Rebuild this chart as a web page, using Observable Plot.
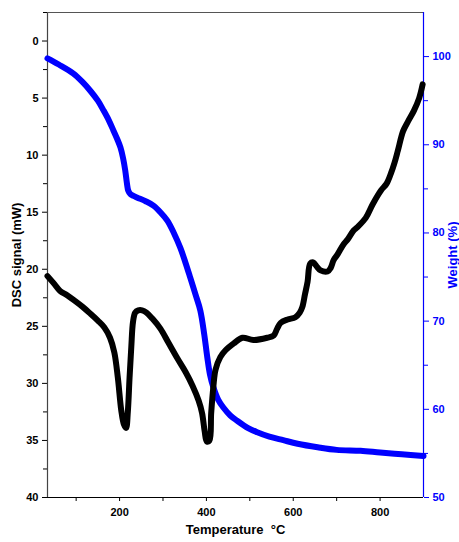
<!DOCTYPE html>
<html><head><meta charset="utf-8">
<script src="https://cdn.jsdelivr.net/npm/d3@7"></script>
<script src="https://cdn.jsdelivr.net/npm/@observablehq/plot@0.6"></script>
<style>
body{margin:0;background:#fff;}
#chart svg{font-family:"Liberation Sans",Arial,sans-serif;font-weight:bold;}
#chart g[aria-label$="axis label"] text{font-size:13px;}
</style>
</head><body><div id="chart"></div>
<script>
const dscTemp = [34,50,63,80,98,115,133,150,165,178,188,196,204,210,215,219,223,227,231,236,243,252,262,275,294,312,333,352,368,382,390,396,401,407,411,416,421,432,444,463,483,508,540,555,563,571,587,605,615,621,627,633,639,646,655,663,679,686,693,702,716,725,739,748,767,783,802,815,825,833,841,853,865,878,890,898];
const dscSignal = [20.6,21.3,21.9,22.3,22.8,23.3,23.9,24.5,25.1,26.0,27.3,29.5,32.4,33.6,33.9,32.5,29.5,26.8,24.6,23.8,23.6,23.6,23.8,24.3,25.2,26.4,27.8,29.0,30.2,31.5,32.6,34.2,35.1,35.0,32.6,30.3,28.8,27.7,27.1,26.5,26.0,26.2,26.0,25.8,25.2,24.7,24.4,24.2,23.8,23.3,22.2,21.1,19.5,19.4,19.8,20.1,20.2,19.9,19.2,18.7,17.8,17.4,16.6,16.3,15.5,14.3,13.1,12.5,11.6,10.7,9.6,7.9,7.0,6.1,5.0,3.8];
const tgaTemp = [34,60,93,115,133,150,163,175,186,195,202,208,213,217,220,225,232,241,260,278,295,310,325,340,352,363,375,386,395,402,408,416,427,439,455,471,495,517,545,577,610,656,700,755,800,850,900];
const tgaWeight = [99.8,99.1,98.1,97.1,96.1,95.0,93.9,92.8,91.6,90.6,89.7,88.5,87.1,85.6,84.8,84.4,84.2,84.0,83.6,83.1,82.3,81.4,80.0,78.3,76.6,74.9,73.0,71.2,68.5,65.9,64.0,62.5,61.1,60.2,59.3,58.7,57.9,57.4,56.9,56.5,56.1,55.7,55.4,55.3,55.1,54.9,54.7];
const tempTicks = [200,400,600,800];
const tempMinor = [100,300,500,700];
const dscTicks = [0,5,10,15,20,25,30,35,40];
const dscMinor = [-2.5,2.5,7.5,12.5,17.5,22.5,27.5,32.5,37.5];
const weightTicks = [50,60,70,80,90,100];
const weightMinor = [55,65,75,85,95];

const xDomain = [34, 900];
const dscDomain = [40, -2.5];
const wDomain = [50, 105];
// map weight onto the DSC axis so both share one y scale
const w2d = d3.scaleLinear().domain(wDomain).range(dscDomain);

const dsc = dscTemp.map((t,i)=>({t, v: dscSignal[i]}));
const tga = tgaTemp.map((t,i)=>({t, v: w2d(tgaWeight[i])}));

const plot = Plot.plot({
  width: 459, height: 542,
  marginLeft: 47, marginRight: 36, marginTop: 12, marginBottom: 45,
  x: {domain: xDomain},
  y: {domain: dscDomain},
  marks: [
    Plot.ruleX([xDomain[0]], {stroke: "#444", strokeWidth: 1.2}),
    Plot.ruleY([dscDomain[1]], {stroke: "#555", strokeWidth: 1.2}),
    Plot.ruleY([dscDomain[0]], {stroke: "#000", strokeWidth: 1.2}),
    Plot.ruleX([xDomain[1]], {stroke: "blue", strokeWidth: 1.2}),
    Plot.axisX(tempTicks, {tickSize: 4, fontSize: 11, tickPadding: 7, label: "Temperature  °C", labelAnchor: "center", labelArrow: "none", labelOffset: 36}),
    Plot.axisX(tempMinor, {tickSize: 4, text: null, label: null}),
    Plot.axisY(dscTicks, {anchor: "left", tickSize: 5, fontSize: 11, tickPadding: 4, label: "DSC signal (mW)", labelAnchor: "center", labelArrow: "none", labelOffset: 36}),
    Plot.axisY(dscMinor, {anchor: "left", tickSize: 4, text: null, label: null}),
    Plot.axisY(weightTicks.map(w2d), {anchor: "right", color: "blue", tickSize: 5, fontSize: 11, tickPadding: 4,
      tickFormat: d => String(Math.round(w2d.invert(d))), label: "Weight (%)", labelAnchor: "center", labelArrow: "none", labelOffset: 33}),
    Plot.axisY(weightMinor.map(w2d), {anchor: "right", color: "blue", tickSize: 4, text: null, label: null}),
    Plot.line(tga, {x: "t", y: "v", stroke: "blue", strokeWidth: 6, curve: "catmull-rom"}),
    Plot.line(dsc, {x: "t", y: "v", stroke: "black", strokeWidth: 6, curve: "catmull-rom", strokeLinejoin: "round"})
  ]
});
document.getElementById("chart").append(plot);
</script>
</body></html>
